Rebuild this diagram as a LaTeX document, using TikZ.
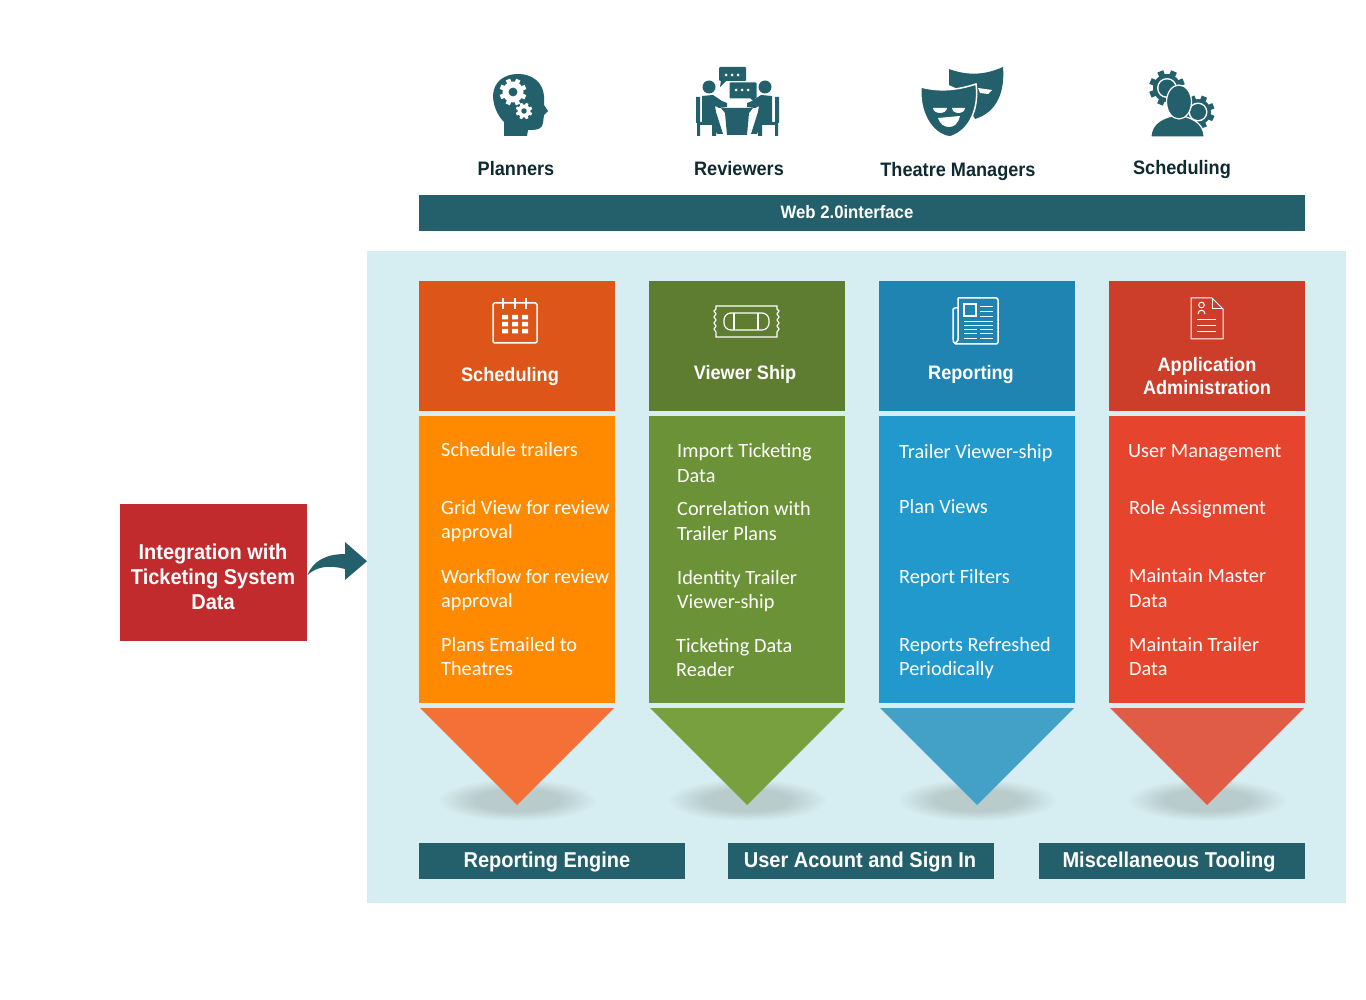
\documentclass[tikz,border=0pt]{standalone}
\usepackage{fontspec}
\setmainfont{Carlito}
\newfontfamily\headfont{Liberation Sans}[BoldFont={Liberation Sans Bold},BoldFeatures={FakeStretch=0.93}]
\usetikzlibrary{positioning,calc}

\definecolor{tealbar}{HTML}{23606B}
\definecolor{panelbg}{HTML}{D6EDF1}
\definecolor{darktext}{HTML}{0F2A30}
\definecolor{shadowc}{HTML}{B9CBCB}
\definecolor{orangehead}{HTML}{DD5518}
\definecolor{orangebody}{HTML}{FF8A00}
\definecolor{orangetip}{HTML}{F57036}
\definecolor{greenhead}{HTML}{5E7D30}
\definecolor{greenbody}{HTML}{6B9236}
\definecolor{greentip}{HTML}{78A03E}
\definecolor{bluehead}{HTML}{1F84B2}
\definecolor{bluebody}{HTML}{2299CC}
\definecolor{bluetip}{HTML}{43A0C6}
\definecolor{redhead}{HTML}{CC3E29}
\definecolor{redbody}{HTML}{E6442C}
\definecolor{redtip}{HTML}{E05C47}
\definecolor{integred}{HTML}{C22B2E}

\pgfdeclareradialshading{shadowblur}{\pgfpoint{0bp}{0bp}}{color(0bp)=(shadowc); color(13bp)=(shadowc); color(25bp)=(panelbg); color(50bp)=(panelbg)}

\newcommand{\gearicon}[4]{%
  \fill[#3] (#1) circle (#2);
  \foreach \a in {0,45,...,315}
    \fill[#3,shift={(#1)},rotate=\a+22] (-0.22*#2,0.8*#2) rectangle (0.22*#2,1.28*#2);
  \fill[#4] (#1) circle (0.42*#2);
}

\begin{document}
\begin{tikzpicture}[
  x=1pt, y=-1pt,
  colbox/.style={rectangle, anchor=north west, inner sep=0pt, minimum width=196pt},
  headbox/.style={colbox, minimum height=130pt},
  bodybox/.style={colbox, minimum height=287pt},
  tealbox/.style={rectangle, fill=tealbar, anchor=north west, inner sep=0pt, minimum height=36pt},
  bartext/.style={text=white, font=\headfont\bfseries\fontsize{21.5}{25}\selectfont},
  roletext/.style={text=darktext, font=\headfont\bfseries\fontsize{19.5}{23}\selectfont},
  headtext/.style={text=white, align=center, font=\headfont\bfseries\fontsize{19.5}{23}\selectfont},
  itemtext/.style={text=white, anchor=west, align=left, inner sep=0pt, font=\fontsize{20.3}{24.5}\selectfont},
  shadowblob/.style={shading=shadowblur, x radius=80, y radius=21},
  iconline/.style={draw=white, line width=1.5pt, fill=none}
]
\useasboundingbox (0,0) rectangle (1366,1000);

\node[rectangle, fill=panelbg, anchor=north west, inner sep=0pt, minimum width=979pt, minimum height=652pt] (panel) at (367,251) {};

% top row
\node[roletext] (planners) at (516,169) {Planners};
\node[roletext] (reviewers) at (739,169) {Reviewers};
\node[roletext] (managers) at (958,172) {Theatre Managers};
\node[roletext] (sched) at (1182,170) {Scheduling};
\node[tealbox, minimum width=886pt] (web) at (419,195) {};
\node[bartext, font=\headfont\bfseries\fontsize{18}{21}\selectfont] (webtext) at (847,212) {Web 2.0interface};

% planners icon
\fill[tealbar] (504,136) -- (504,122) .. controls (497,115) and (493,105) .. (493,95)
  .. controls (494,81) and (505,74) .. (518,74) .. controls (533,74) and (543,83) .. (544,96)
  -- (544,105) -- (548,111) -- (544,115) -- (543,123) .. controls (542,129) and (538,130) .. (528,130) -- (527,136) -- cycle;
\gearicon{513,92}{10.5}{white}{tealbar}
\gearicon{524,111}{6.5}{white}{tealbar}

% reviewers icon
\fill[tealbar, rounded corners=1pt] (719,67) rectangle (746,81);
\fill[tealbar] (721,80) -- (720,87) -- (727,80) -- cycle;
\draw[white, line width=1pt, fill=tealbar, rounded corners=1pt] (729,82) rectangle (757,99);
\fill[tealbar] (750,98) -- (756,104) -- (755,98) -- cycle;
\fill[white] (726,75) circle (1.5) (732,75) circle (1.5) (738,75) circle (1.5);
\fill[white] (736,90) circle (1.5) (742,90) circle (1.5) (748,90) circle (1.5);
\fill[tealbar] (709,87) circle (6.5) (765,87) circle (6.5);
\fill[tealbar] (702,96) -- (713,95) -- (722,101) -- (727,103) -- (727,107) -- (719,108) -- (715,106) -- (716,112) -- (723,134) -- (717,134) -- (712,122) -- (702,122) -- cycle;
\fill[tealbar] (772,96) -- (761,95) -- (752,101) -- (747,103) -- (747,107) -- (755,108) -- (759,106) -- (758,112) -- (751,134) -- (757,134) -- (762,122) -- (772,122) -- cycle;
\fill[tealbar] (696,97) rectangle (700,123) (697,122) rectangle (716,125) (697,123) rectangle (700,136) (712,123) rectangle (716,136);
\fill[tealbar] (775,97) rectangle (779,123) (758,122) rectangle (777,125) (775,123) rectangle (778,136) (758,123) rectangle (762,136);
\fill[tealbar] (721,108) -- (753,108) -- (749,113) -- (747,135) -- (727,135) -- (725,113) -- cycle;

% masks icon
\fill[tealbar] (949,69) .. controls (968,76) and (985,75) .. (1003,67) .. controls (1005,90) and (998,112) .. (975,119) -- (960,90) -- (949,85) -- cycle;
\fill[white] (978,88) -- (992,90) -- (988,94) -- (980,93) -- cycle;
\draw[white, line width=1.5pt, fill=tealbar] (921,87) .. controls (940,92) and (958,90) .. (976,84)
  .. controls (979,105) and (972,130) .. (950,137) .. controls (930,134) and (919,110) .. (921,87) -- cycle;
\fill[white] (933,108) arc[start angle=180, end angle=0, x radius=7, y radius=5] -- cycle;
\fill[white] (952,108) arc[start angle=180, end angle=0, x radius=6.5, y radius=5] -- cycle;
\fill[white] (938,118) -- (960,116) .. controls (958,124) and (954,127) .. (949,127) .. controls (944,127) and (940,124) .. (938,118) -- cycle;

% scheduling icon
\gearicon{1167,88}{14}{tealbar}{white}
\fill[white] (1167,88) circle (10);
\fill[tealbar] (1167,88) circle (8.5);
\gearicon{1198,112}{13}{tealbar}{white}
\fill[white] (1198,112) circle (9.5);
\fill[tealbar] (1198,112) circle (8);
\draw[white, line width=1.2pt, fill=tealbar] (1151,137) .. controls (1151,122) and (1165,117) .. (1177,115) .. controls (1190,117) and (1204,122) .. (1204,137) -- cycle;
\draw[white, line width=1.2pt, fill=tealbar] (1179,102) ellipse[x radius=12.5, y radius=17];

% columns
\node[headbox, fill=orangehead] (schedhead) at (419,281) {};
\node[bodybox, fill=orangebody] (schedbody) at (419,416) {};
\node[headbox, fill=greenhead] (viewhead) at (649,281) {};
\node[bodybox, fill=greenbody] (viewbody) at (649,416) {};
\node[headbox, fill=bluehead] (rephead) at (879,281) {};
\node[bodybox, fill=bluebody] (repbody) at (879,416) {};
\node[headbox, fill=redhead] (apphead) at (1109,281) {};
\node[bodybox, fill=redbody] (appbody) at (1109,416) {};

\node[headtext] (schedtitle) at (510,377) {Scheduling};
\node[headtext] (viewtitle) at (745,374) {Viewer Ship};
\node[headtext] (reptitle) at (971,375) {Reporting};
\node[headtext] (apptitle) at (1207,376) {Application\\Administration};

% calendar icon
\draw[iconline, rounded corners=1.5pt] (493,303) rectangle (537,343);
\draw[iconline] (503,298) -- (503,309) (515,298) -- (515,309) (526,298) -- (526,309);
\fill[white] (502,315) rectangle (508,319.5) (512,315) rectangle (518,319.5) (522,315) rectangle (528,319.5);
\fill[white] (502,322) rectangle (508,326.5) (512,322) rectangle (518,326.5) (522,322) rectangle (528,326.5);
\fill[white] (502,329) rectangle (508,333.5) (512,329) rectangle (518,333.5) (522,329) rectangle (528,333.5);

% ticket icon
\draw[iconline, line width=1.2pt] (716,306) -- (777,306) -- (777,309) -- (779,311) -- (777,314) -- (779,317) -- (777,320) -- (779,323) -- (777,326) -- (779,329) -- (777,332) -- (777,337)
  -- (716,337) -- (716,332) -- (714,329) -- (716,326) -- (714,323) -- (716,320) -- (714,317) -- (716,314) -- (714,311) -- (716,309) -- cycle;
\draw[iconline, line width=1.2pt, rounded corners=7pt] (724,313) rectangle (769,330);
\draw[iconline, line width=1.2pt] (734,313) -- (734,330) (758,313) -- (758,330);

% newspaper icon
\draw[iconline, rounded corners=2pt] (958,298) -- (998,298) -- (998,344) -- (958,344) -- (954,344) -- (953,340) -- (953,308) -- (958,308);
\draw[iconline] (958,298) -- (958,340) -- (955,344);
\draw[iconline] (964,304) rectangle (976,316);
\draw[iconline, line width=0.9pt] (980,306) -- (993,306) (980,311) -- (993,311) (980,316) -- (993,316)
  (964,321) -- (993,321) (964,325) -- (993,325) (964,329) -- (977,329) (980,329) -- (993,329)
  (964,333) -- (977,333) (980,333) -- (993,333) (964,338) -- (977,338) (980,338) -- (993,338);

% document icon
\draw[iconline, line width=1pt] (1191,298) -- (1212,298) -- (1223,309) -- (1223,339) -- (1191,339) -- cycle;
\draw[iconline, line width=1pt] (1212,298) -- (1212,309) -- (1223,309);
\draw[iconline, line width=1pt] (1201.5,305) circle (2.8);
\draw[iconline, line width=1pt] (1198,314) .. controls (1198,309) and (1205,309) .. (1205,314);
\draw[iconline, line width=1pt] (1197,320) -- (1216,320) (1197,326) -- (1216,326) (1197,332) -- (1216,332);

% items
\node[itemtext] (s1) at (441,450) {Schedule trailers};
\node[itemtext] (s2) at (441,521) {Grid View for review\\approval};
\node[itemtext] (s3) at (441,590) {Workflow for review\\approval};
\node[itemtext] (s4) at (441,656.5) {Plans Emailed to\\Theatres};
\node[itemtext] (v1) at (677,463) {Import Ticketing\\Data};
\node[itemtext] (v2) at (677,521) {Correlation with\\Trailer Plans};
\node[itemtext] (v3) at (677,591) {Identity Trailer\\Viewer-ship};
\node[itemtext] (v4) at (676,657.5) {Ticketing Data\\Reader};
\node[itemtext] (r1) at (899,453) {Trailer Viewer-ship};
\node[itemtext] (r2) at (899,507) {Plan Views};
\node[itemtext] (r3) at (899,578) {Report Filters};
\node[itemtext] (r4) at (899,658) {Reports Refreshed\\Periodically};
\node[itemtext] (a1) at (1128,453) {User Management};
\node[itemtext] (a2) at (1129,509) {Role Assignment};
\node[itemtext] (a3) at (1129,588) {Maintain Master\\Data};
\node[itemtext] (a4) at (1129,656.5) {Maintain Trailer\\Data};

% shadows and tips
\path[shadowblob] (517,800) ellipse[];
\path[shadowblob] (747,800) ellipse[];
\path[shadowblob] (977,800) ellipse[];
\path[shadowblob] (1207,800) ellipse[];
\fill[orangetip] (420,708) -- (614,708) -- (517,805) -- cycle;
\fill[greentip] (650,708) -- (844,708) -- (747,805) -- cycle;
\fill[bluetip] (880,708) -- (1074,708) -- (977,805) -- cycle;
\fill[redtip] (1110,708) -- (1304,708) -- (1207,805) -- cycle;

% bottom row
\node[tealbox, minimum width=266pt] (engine) at (419,843) {};
\node[tealbox, minimum width=266pt] (account) at (728,843) {};
\node[tealbox, minimum width=266pt] (tooling) at (1039,843) {};
\node[bartext] (enginetext) at (547,862) {Reporting Engine};
\node[bartext] (accounttext) at (860,862) {User Acount and Sign In};
\node[bartext] (toolingtext) at (1169,862) {Miscellaneous Tooling};

% integration box
\node[rectangle, fill=integred, anchor=north west, inner sep=0pt, minimum width=187pt, minimum height=137pt] (integ) at (120,504) {};
\node[text=white, align=center, inner sep=0pt, font=\headfont\bfseries\fontsize{21.5}{25}\selectfont] (integtext) at (213,577) {Integration with\\Ticketing System\\Data};
\fill[tealbar] ([yshift=-2.5pt]integ.east) .. controls (313,561) and (326,554) .. (345,554) -- (345,542) -- ([yshift=16pt]panel.west) -- (345,580) -- (345,569)
  .. controls (330,565) and (317,566) .. ([yshift=-2.5pt]integ.east) -- cycle;
\end{tikzpicture}
\end{document}
